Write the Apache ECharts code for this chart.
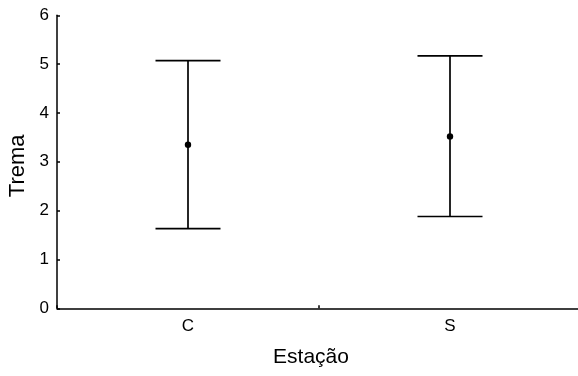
<!DOCTYPE html>
<html>
<head>
<meta charset="utf-8">
<script src="https://cdn.jsdelivr.net/npm/echarts@6/dist/echarts.min.js"></script>
<style>
  html, body { margin: 0; padding: 0; background: #fff; }
  #chart { width: 578px; height: 376px; }
</style>
</head>
<body>
<div id="chart"></div>
<script>
// Station categories and the Trema mean with its interval bounds
const categories = ['C', 'S'];
const means = [3.35, 3.52];
const lower = [1.63, 1.88];
const upper = [5.07, 5.17];
const yTicks = [0, 1, 2, 3, 4, 5, 6];

const chart = echarts.init(document.getElementById('chart'));
const FONT = '"Liberation Sans", Arial, sans-serif';

const barData = categories.map((c, i) => [i, means[i], lower[i], upper[i]]);

chart.setOption({
  animation: false,
  grid: {
    left: 57, right: -3, top: 15.3, bottom: 376 - 308.3,
    containLabel: false, outerBoundsMode: 'none'
  },
  xAxis: {
    type: 'category',
    data: categories,
    boundaryGap: true,
    name: 'Estação',
    nameLocation: 'middle',
    nameGap: 38,
    nameTextStyle: { fontFamily: FONT, fontSize: 21, color: '#000', padding: [0, 16, 0, 0] },
    axisLine: { lineStyle: { color: '#000', width: 1.5 } },
    axisTick: { show: true, inside: true, length: 3, alignWithLabel: false, lineStyle: { color: '#000', width: 1.5 } },
    axisLabel: { fontFamily: FONT, fontSize: 17, color: '#000', margin: 10 },
    splitLine: { show: false }
  },
  yAxis: {
    type: 'value',
    min: yTicks[0],
    max: yTicks[yTicks.length - 1],
    interval: 1,
    name: 'Trema',
    nameLocation: 'middle',
    nameGap: 21,
    nameRotate: 90,
    nameTextStyle: { fontFamily: FONT, fontSize: 22, color: '#000', padding: [0, 8, 0, 0] },
    axisLine: { show: true, lineStyle: { color: '#000', width: 1.5 } },
    axisTick: { show: true, inside: true, length: 3, lineStyle: { color: '#000', width: 1.5 } },
    axisLabel: { fontFamily: FONT, fontSize: 17, color: '#000', margin: 8 },
    splitLine: { show: false }
  },
  series: [{
    type: 'custom',
    data: barData,
    encode: { x: 0, y: [1, 2, 3] },
    renderItem: function (params, api) {
      const idx = api.value(0);
      const mid = api.coord([idx, api.value(1)]);
      const lo = api.coord([idx, api.value(2)]);
      const hi = api.coord([idx, api.value(3)]);
      const half = 32.5;
      const style = { stroke: '#000', lineWidth: 1.7, fill: null };
      return {
        type: 'group',
        children: [
          { type: 'line', shape: { x1: hi[0], y1: hi[1], x2: lo[0], y2: lo[1] }, style },
          { type: 'line', shape: { x1: hi[0] - half, y1: hi[1], x2: hi[0] + half, y2: hi[1] }, style },
          { type: 'line', shape: { x1: lo[0] - half, y1: lo[1], x2: lo[0] + half, y2: lo[1] }, style },
          { type: 'circle', shape: { cx: mid[0], cy: mid[1], r: 3.2 }, style: { fill: '#000' } }
        ]
      };
    }
  }]
});
</script>
</body>
</html>
